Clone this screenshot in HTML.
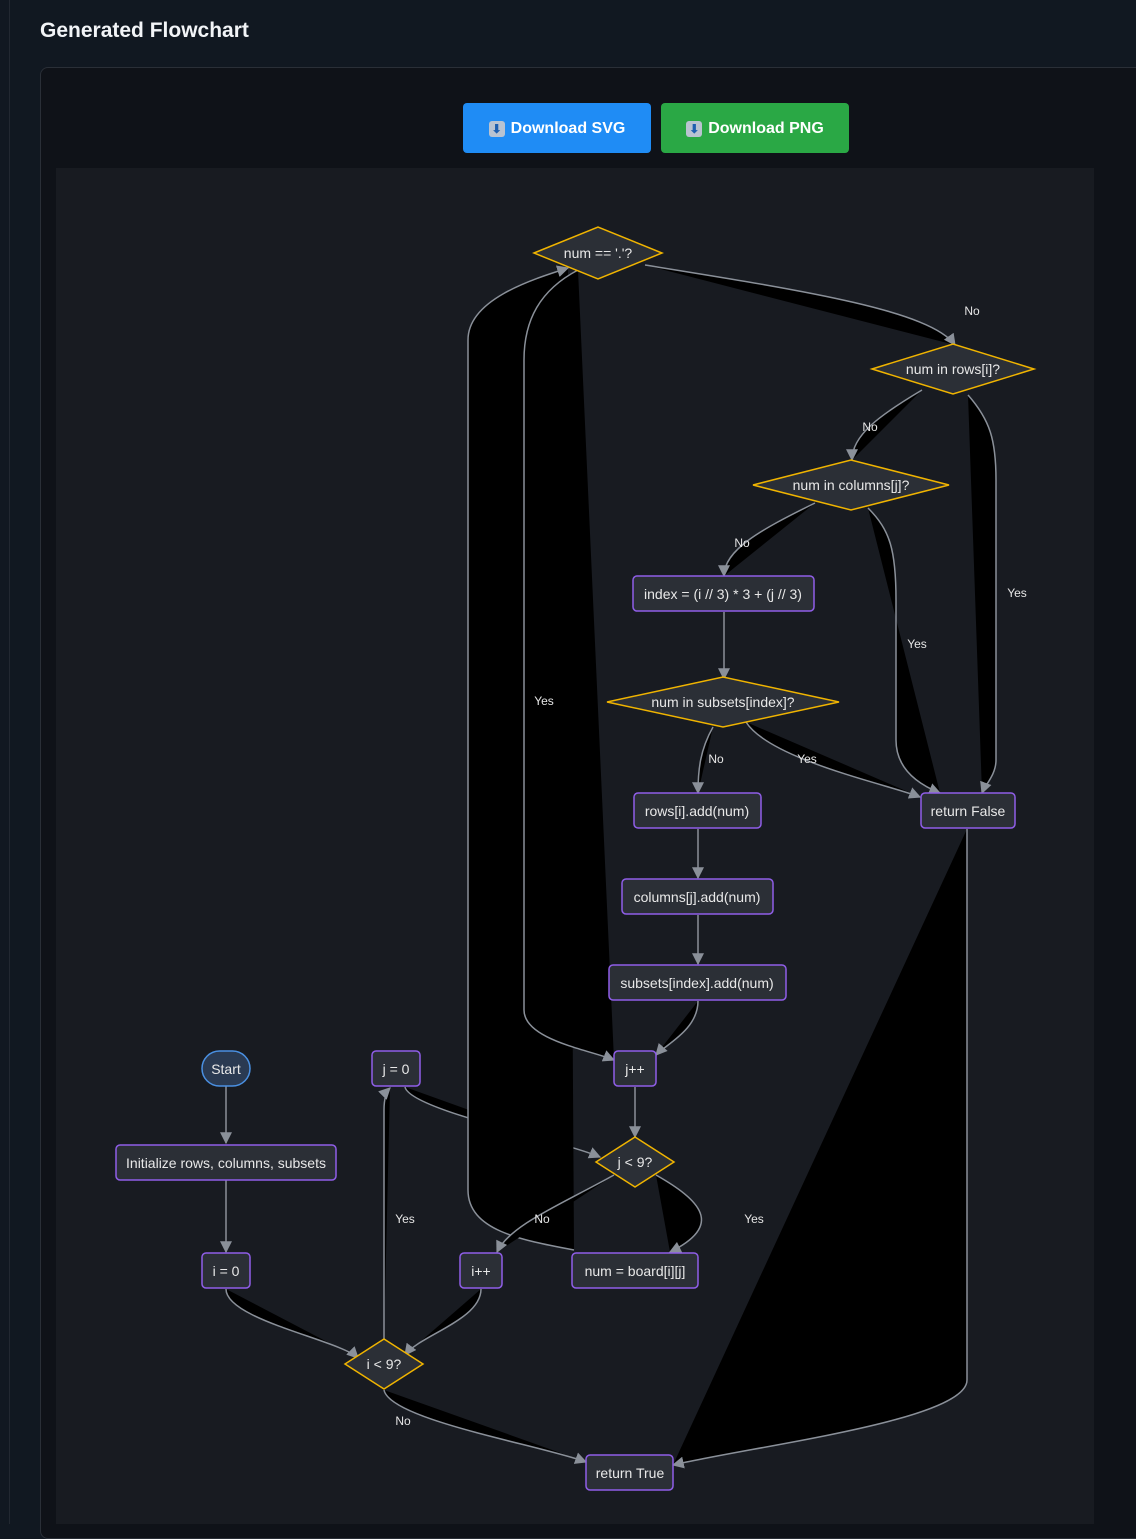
<!DOCTYPE html>
<html><head><meta charset="utf-8"><style>
html,body{margin:0;padding:0;width:1136px;height:1524px;overflow:hidden;background:#111821;font-family:"Liberation Sans",sans-serif}
.title{position:absolute;left:40px;top:19px;color:#f2f4f7;font-size:21px;font-weight:bold}
.vline{position:absolute;left:9px;top:0;width:1px;height:1524px;background:#222831}
.card{position:absolute;left:40px;top:67px;width:1110px;height:1470px;background:#0f1218;border:1px solid #2a2f37;border-radius:8px}
.btn{position:absolute;top:105px;height:48px;width:188px;border-radius:4px;color:#fff;font-weight:bold;font-size:16px;display:flex;align-items:center;justify-content:center;gap:6px}
.ic{display:inline-block;width:16px;height:16px;background:#b9c3d1;border-radius:3px;color:#1e5fb0;font-size:12px;line-height:16px;text-align:center}
svg{position:absolute;left:0;top:0}
</style></head><body>
<div class="vline"></div>
<div class="title">Generated Flowchart</div>
<div class="card"></div>
<div class="btn" style="left:463px;background:#1f8cf5;top:103px;height:50px;padding-top:2px;box-sizing:border-box"><span class="ic">⬇</span>Download SVG</div>
<div class="btn" style="left:661px;background:#2aa845;top:103px;height:50px;padding-top:2px;box-sizing:border-box"><span class="ic">⬇</span>Download PNG</div>
<svg width="1136" height="1524" viewBox="0 0 1136 1524">
<defs><marker id="a" viewBox="0 0 10 10" refX="9" refY="5" markerWidth="8" markerHeight="8" orient="auto"><path d="M0,0 L10,5 L0,10 z" fill="#8a9099"/></marker></defs>
<rect x="56" y="168" width="1038" height="1360" fill="#181b21"/>
<g fill="#000" stroke="#8a9099" stroke-width="1.5" marker-end="url(#a)">
<path d="M226,1086 L226,1143"/>
<path d="M226,1180 L226,1252"/>
<path d="M226,1289 C226,1320 340,1340 358,1358"/>
<path d="M384,1340 L384,1110 C384,1095 388,1090 390,1088"/>
<path d="M405,1087 C410,1110 560,1140 600,1157"/>
<path d="M635,1087 L635,1137"/>
<path d="M656,1175 C700,1200 725,1225 670,1252"/>
<path d="M481,1289 C481,1320 420,1335 405,1355"/>
<path d="M384,1390 C390,1420 540,1445 586,1462"/>
<path d="M574,1250 C520,1240 468,1230 468,1190 L468,340 C468,300 530,280 568,268"/>
<path d="M614,1175 C560,1205 510,1225 497,1252"/>
<path d="M578,270 C540,290 524,320 524,360 L524,1010 C524,1040 590,1050 614,1060"/>
<path d="M645,265 C800,290 930,310 955,345"/>
<path d="M922,390 C880,415 852,435 852,460"/>
<path d="M968,395 C990,420 996,440 996,480 L996,760 C996,775 985,785 982,793"/>
<path d="M815,503 C760,530 724,550 724,576"/>
<path d="M868,508 C890,530 896,550 896,600 L896,740 C896,770 920,785 940,793"/>
<path d="M724,612 L724,679"/>
<path d="M713,727 C700,750 698,770 698,793"/>
<path d="M746,722 C770,760 890,785 920,797"/>
<path d="M698,829 L698,878"/>
<path d="M698,915 L698,964"/>
<path d="M698,1001 C698,1030 665,1045 656,1055"/>
<path d="M967,829 L967,1380 C967,1420 760,1445 673,1465"/>
</g>
<g fill="#e6e6e6" font-size="12" text-anchor="middle">
<text x="405" y="1223">Yes</text><text x="542" y="1223">No</text><text x="754" y="1223">Yes</text>
<text x="403" y="1425">No</text><text x="544" y="705">Yes</text><text x="972" y="315">No</text>
<text x="870" y="431">No</text><text x="1017" y="597">Yes</text><text x="742" y="547">No</text>
<text x="917" y="648">Yes</text><text x="716" y="763">No</text><text x="807" y="763">Yes</text>
</g>
<g fill="#2b2f36" stroke="#f0b400" stroke-width="1.5">
<polygon points="534,253 598,227 662,253 598,279"/>
<polygon points="872,369 953,344 1034,369 953,394"/>
<polygon points="753,485 851,460 949,485 851,510"/>
<polygon points="607,702 723,677 839,702 723,727"/>
<polygon points="596,1162 635,1137 674,1162 635,1187"/>
<polygon points="345,1364 384,1339 423,1364 384,1389"/>
</g>
<g fill="#2b2f36" stroke="#8f5ee8" stroke-width="1.5">
<rect x="633" y="576" width="181" height="35" rx="4"/>
<rect x="921" y="793" width="94" height="35" rx="4"/>
<rect x="634" y="793" width="127" height="35" rx="4"/>
<rect x="622" y="879" width="151" height="35" rx="4"/>
<rect x="609" y="965" width="177" height="35" rx="4"/>
<rect x="372" y="1051" width="48" height="35" rx="4"/>
<rect x="614" y="1051" width="42" height="35" rx="4"/>
<rect x="116" y="1145" width="220" height="35" rx="4"/>
<rect x="202" y="1253" width="48" height="35" rx="4"/>
<rect x="460" y="1253" width="42" height="35" rx="4"/>
<rect x="572" y="1253" width="126" height="35" rx="4"/>
<rect x="586" y="1455" width="87" height="35" rx="4"/>
</g>
<rect x="202" y="1051" width="48" height="35" rx="17.5" fill="#2a3a52" stroke="#4a90e2" stroke-width="1.5"/>
<g fill="#e8e8e8" font-size="14" text-anchor="middle">
<text x="598" y="258">num == '.'?</text>
<text x="953" y="374">num in rows[i]?</text>
<text x="851" y="490">num in columns[j]?</text>
<text x="723" y="707">num in subsets[index]?</text>
<text x="635" y="1167">j &lt; 9?</text>
<text x="384" y="1369">i &lt; 9?</text>
<text x="723" y="599">index = (i // 3) * 3 + (j // 3)</text>
<text x="968" y="816">return False</text>
<text x="697" y="816">rows[i].add(num)</text>
<text x="697" y="902">columns[j].add(num)</text>
<text x="697" y="988">subsets[index].add(num)</text>
<text x="226" y="1074">Start</text>
<text x="396" y="1074">j = 0</text>
<text x="635" y="1074">j++</text>
<text x="226" y="1168">Initialize rows, columns, subsets</text>
<text x="226" y="1276">i = 0</text>
<text x="481" y="1276">i++</text>
<text x="635" y="1276">num = board[i][j]</text>
<text x="630" y="1478">return True</text>
</g>
</svg>
</body></html>
